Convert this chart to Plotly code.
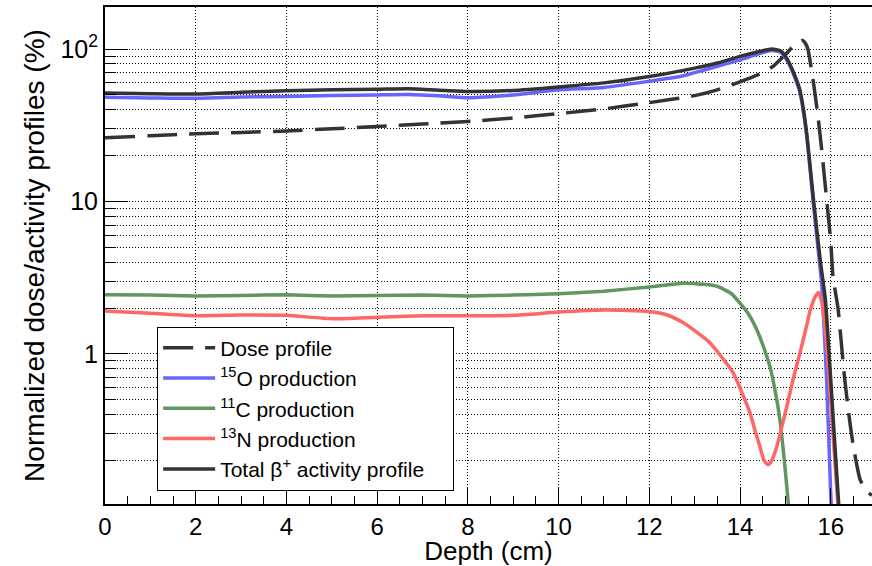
import plotly.graph_objects as go

# ---- data ----
dose_x = [0, 1, 2, 3, 4, 5, 6, 7, 8, 9, 10, 11, 12, 13, 13.5, 14, 14.5, 14.75, 15.0, 15.17, 15.3, 15.38,
          15.45, 15.5, 15.62, 15.72, 15.8, 15.9, 16.0, 16.05, 16.16, 16.3, 16.4, 16.5, 16.65, 16.8, 16.91]
dose_y = [26.2, 27, 27.8, 28.4, 29, 30, 31, 32.2, 33.5, 35.3, 37.7, 40.5, 44.5, 49.5, 54, 61, 70, 78, 92, 104, 112, 114,
          108, 99, 60, 36, 22, 11, 5.5, 3.2, 2.0, 0.72, 0.4, 0.246, 0.149, 0.125, 0.118]

o15_x = [0, 1, 2, 3, 4, 5, 6, 6.7, 7.5, 8, 9, 10, 11, 12, 12.68, 13, 13.5, 14, 14.46, 14.7, 14.9, 15.05,
         15.2, 15.32, 15.47, 15.62, 15.73, 15.8, 15.91, 16.0, 16.05]
o15_y = [48.2, 47.8, 47.5, 48.5, 48.9, 49.5, 50, 50.3, 49, 48, 50, 54, 56, 61.5, 66, 70, 77, 85, 94, 98, 95, 83,
         66, 52, 27, 9.5, 4.6, 2.9, 0.675, 0.12, 0.06]

c11_x = [0, 1, 2, 3, 4, 5, 6, 7, 8, 9, 10, 11, 12, 12.75, 13.2, 13.5, 13.8, 14.0, 14.2, 14.37, 14.5, 14.66,
         14.8, 14.88, 15.0, 15.07, 15.12]
c11_y = [2.44, 2.43, 2.40, 2.42, 2.44, 2.40, 2.42, 2.43, 2.40, 2.43, 2.48, 2.58, 2.75, 2.91, 2.86, 2.77, 2.5, 2.15,
         1.8, 1.44, 1.15, 0.826, 0.52, 0.369, 0.17, 0.1, 0.07]

n13_x = [0, 1, 2, 3, 4, 5, 6, 7, 8, 9, 10, 11, 12, 12.4, 12.75, 13.0, 13.34, 13.6, 13.85, 14.05, 14.22, 14.35,
         14.44, 14.53, 14.62, 14.7, 14.81, 14.92, 15.03, 15.18, 15.32, 15.45, 15.55, 15.65, 15.73, 15.8, 15.88,
         15.95, 16.02, 16.1, 16.16, 16.2]
n13_y = [1.91, 1.85, 1.78, 1.8, 1.79, 1.7, 1.74, 1.78, 1.78, 1.79, 1.88, 1.94, 1.9, 1.8, 1.6, 1.42, 1.18, 0.95,
         0.75, 0.55, 0.41, 0.3, 0.246, 0.2, 0.187, 0.2, 0.246, 0.33, 0.45, 0.7, 1.01, 1.45, 1.94, 2.35, 2.53, 2.2,
         1.44, 0.8, 0.41, 0.18, 0.1, 0.07]

tot_x = [0, 1, 2, 3, 4, 5, 6, 6.7, 7.5, 8, 9, 10, 11, 12, 13, 13.5, 14, 14.4, 14.7, 14.9, 15.05, 15.2, 15.32,
         15.4, 15.47, 15.62, 15.77, 15.88, 16.0, 16.1, 16.2]
tot_y = [51.5, 51, 50.7, 52, 53.3, 54, 54.5, 55, 53.5, 52.7, 53.5, 56.4, 60, 66, 75, 81, 89.5, 96, 100, 97, 85,
         68, 54, 40, 28, 10.3, 4.1, 2.3, 0.68, 0.23, 0.08]

PAD = "\u00a0" * 4
names = ["Dose profile", "<sup>15</sup>O production", "<sup>11</sup>C production",
         "<sup>13</sup>N production", "Total \u03b2<sup>+</sup> activity profile" + PAD]

y_major = [1, 10, 100]
y_major_text = ["1", "10", "10<sup>2</sup>"]
y_minor = [0.2, 0.3, 0.4, 0.5, 0.6, 0.7, 0.8, 0.9, 2, 3, 4, 5, 6, 7, 8, 9,
           20, 30, 40, 50, 60, 70, 80, 90]

FONT = "Liberation Sans, Arial, sans-serif"
DOT = "1px,2px"

fig = go.Figure()
series = [
    (dose_x, dose_y, "rgb(51,51,51)", "30px,12px"),
    (o15_x, o15_y, "rgb(102,102,255)", "solid"),
    (c11_x, c11_y, "rgb(96,150,96)", "solid"),
    (n13_x, n13_y, "rgb(255,102,102)", "solid"),
    (tot_x, tot_y, "rgb(51,51,51)", "solid"),
]
for (xs, ys, col, dash), nm in zip(series, names):
    fig.add_trace(go.Scatter(x=xs, y=ys, mode="lines", name=nm,
                             line=dict(color=col, width=3.5, dash=dash, shape="spline", smoothing=0.5)))

yr = [-0.985, 2.276]
fig.update_layout(
    width=872, height=566,
    margin=dict(l=105, r=0, t=7, b=62),
    paper_bgcolor="white", plot_bgcolor="white",
    font=dict(family=FONT, color="black"),
    showlegend=True,
    legend=dict(x=0.068, y=0.357, xanchor="left", yanchor="top",
                bgcolor="white", bordercolor="black", borderwidth=1,
                font=dict(size=21, family=FONT), itemwidth=52, tracegroupgap=0),
    xaxis=dict(range=[0, 16.91], tick0=0, dtick=2, ticks="inside", ticklen=16, tickwidth=1,
               tickcolor="black", showline=True, linecolor="black", linewidth=2, mirror=True,
               showgrid=True, gridcolor="black", gridwidth=1, griddash=DOT, zeroline=False,
               tickfont=dict(size=24), title=dict(text="Depth (cm)", font=dict(size=26), standoff=7),
               minor=dict(dtick=0.5, ticks="inside", ticklen=8, tickcolor="black", showgrid=False)),
    yaxis=dict(type="log", range=yr, tickvals=y_major, ticktext=y_major_text, ticks="inside",
               ticklen=23, tickwidth=1, tickcolor="black", showline=True, linecolor="black", linewidth=2,
               mirror=False, showgrid=True, gridcolor="black", gridwidth=1, griddash=DOT, zeroline=False,
               tickfont=dict(size=25), title=dict(text="Normalized dose/activity profiles (%)",
                                                  font=dict(size=28), standoff=8),
               minor=dict(tickvals=y_minor, ticks="inside", ticklen=11, tickcolor="black",
                          showgrid=True, gridcolor="black", gridwidth=1, griddash=DOT)),
    yaxis2=dict(type="log", range=yr, overlaying="y", side="right", anchor="x", showline=False,
                tickvals=y_major, ticks="inside", ticklen=15, tickwidth=1, tickcolor="black",
                showticklabels=False, showgrid=False, zeroline=False,
                minor=dict(tickvals=y_minor, ticks="inside", ticklen=5, tickcolor="black", showgrid=False)),
)
fig.write_html("out.html")
